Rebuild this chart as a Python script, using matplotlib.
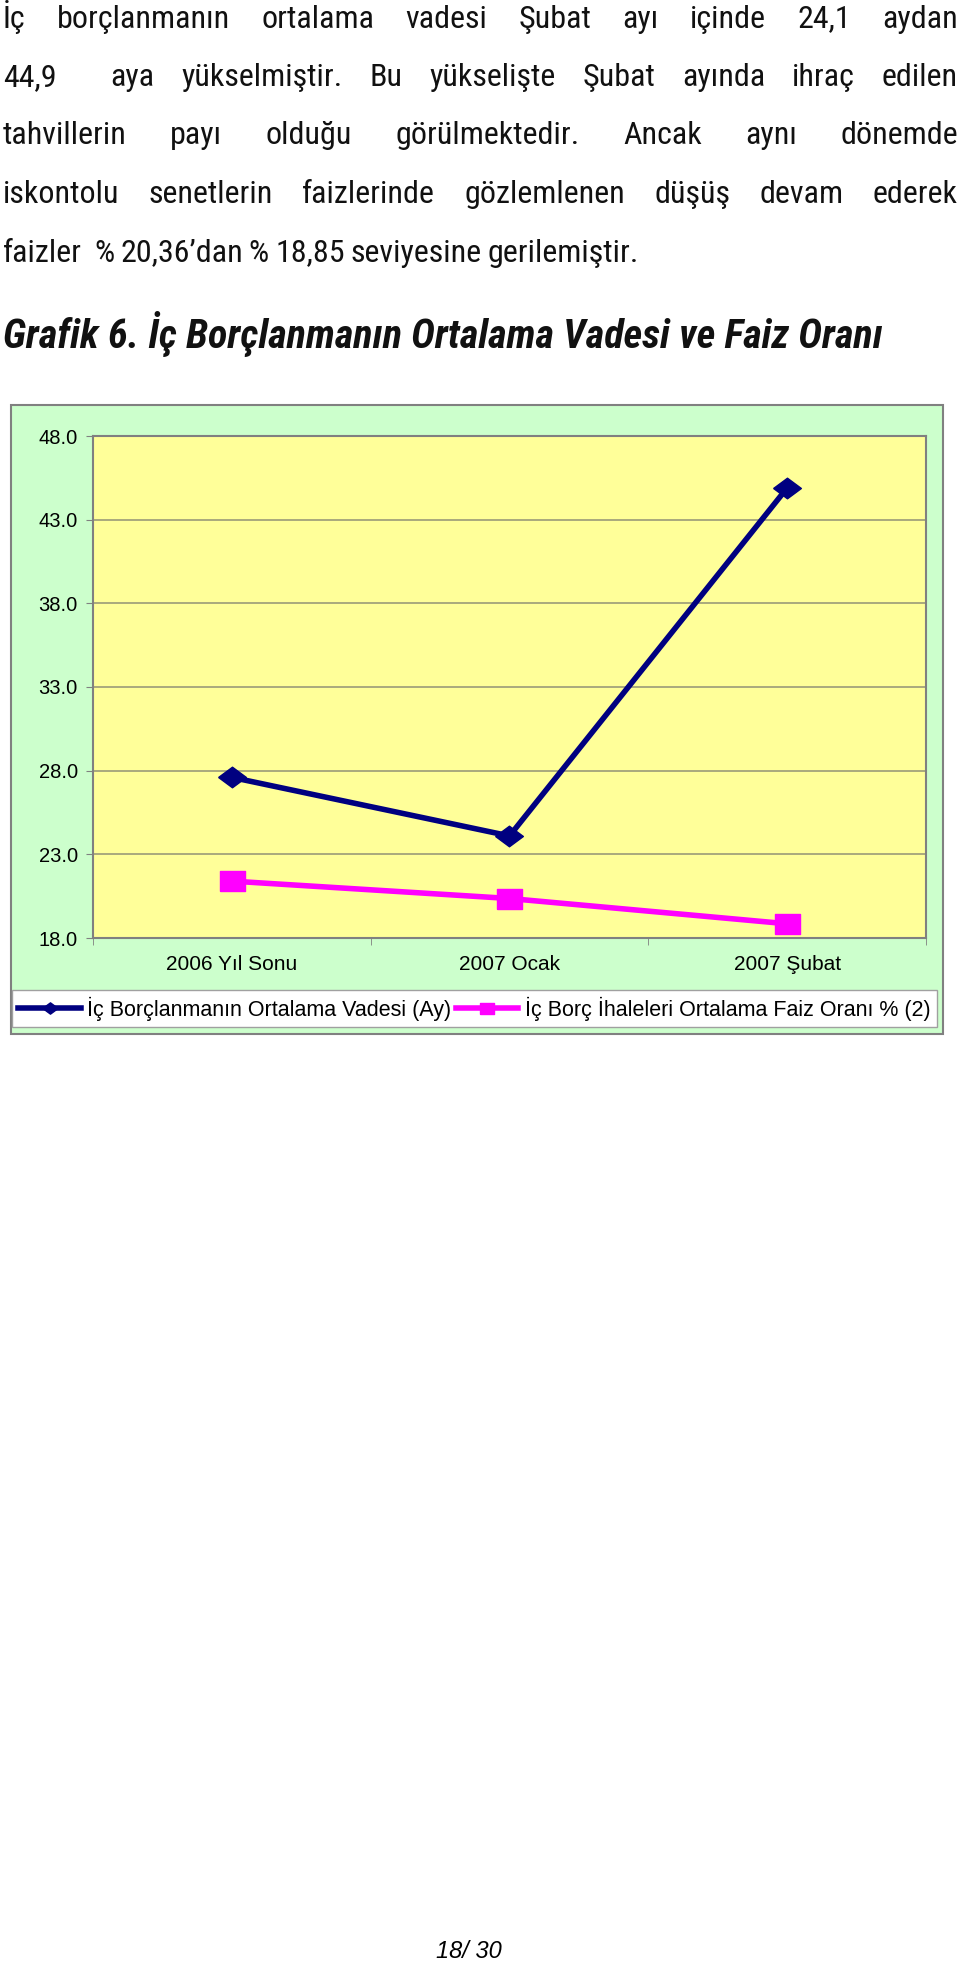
import matplotlib
matplotlib.use('Agg')
import matplotlib.pyplot as plt
from matplotlib import font_manager
from matplotlib.patches import Rectangle

# Data
categories = ['2006 Yıl Sonu', '2007 Ocak', '2007 Şubat']
vade = [27.6, 24.1, 44.9]          # ortalama vade (ay)
faiz = [21.4, 20.36, 18.85]        # ortalama faiz orani %
yticks = [18, 23, 28, 33, 38, 43, 48]
series_labels = ['İç Borçlanmanın Ortalama Vadesi (Ay)',
                 'İç Borç İhaleleri Ortalama Faiz Oranı % (2)']

body_lines = [
    'İç borçlanmanın ortalama vadesi Şubat ayı içinde 24,1 aydan',
    '44,9  aya yükselmiştir. Bu yükselişte Şubat ayında ihraç edilen',
    'tahvillerin payı olduğu görülmektedir. Ancak aynı dönemde',
    'iskontolu senetlerin faizlerinde gözlemlenen düşüş devam ederek',
    'faizler  % 20,36’dan % 18,85 seviyesine gerilemiştir.',
]
title = 'Grafik 6. İç Borçlanmanın Ortalama Vadesi ve Faiz Oranı'
page_no = '18/ 30'

# pick a narrow font for the body if one is there
names = {f.name for f in font_manager.fontManager.ttflist}
body_font = 'Liberation Sans'
for cand in ['Liberation Sans Narrow', 'Roboto Condensed', 'DejaVu Sans Condensed']:
    if cand in names:
        body_font = cand
        break
chart_font = 'Liberation Sans'

W, H = 960, 1962
fig = plt.figure(figsize=(W / 100, H / 100), dpi=100)
fig.patch.set_facecolor('white')
renderer = fig.canvas.get_renderer()


def fx(px):
    return px / W


def fy(py):
    return 1 - py / H


# justified paragraph (last line left aligned with tight spaces)
body_size = 23
left_px, right_px = 3, 958
baselines = [27.5, 86, 144.5, 203, 261.5]
for i, line in enumerate(body_lines):
    yb = fy(baselines[i])
    words = line.split(' ')
    texts = [fig.text(0, yb, w, fontsize=body_size, family=body_font,
                      va='baseline', ha='left', color='#111111') for w in words]
    widths = [t.get_window_extent(renderer).width if w else 0 for t, w in zip(texts, words)]
    if i == len(body_lines) - 1:
        gap = 6
    else:
        gap = (right_px - left_px - sum(widths)) / (len(words) - 1)
    x = left_px
    for t, wd in zip(texts, widths):
        t.set_x(fx(x))
        x += wd + gap

fig.text(fx(left_px), fy(348), title, fontsize=29, family=body_font,
         fontweight='bold', fontstyle='italic', va='baseline', ha='left',
         color='#111111')

# chart background box
fig.patches.append(Rectangle((fx(11), fy(1034)), fx(943) - fx(11), fy(405) - fy(1034),
                             transform=fig.transFigure, facecolor='#CCFFCC',
                             edgecolor='#808080', lw=1.5, zorder=-10))

ax = fig.add_axes([fx(93), fy(938), fx(926) - fx(93), fy(436) - fy(938)])
ax.set_zorder(2)
ax.set_facecolor('#FFFF99')
for s in ax.spines.values():
    s.set_color('#808080')
    s.set_linewidth(1.5)

x = list(range(len(categories)))
diamond = [(-1.35, 0), (0, 1), (1.35, 0), (0, -1), (-1.35, 0)]
box = [(-1.25, -1), (1.25, -1), (1.25, 1), (-1.25, 1), (-1.25, -1)]
ax.plot(x, vade, color='#000080', lw=4, marker=diamond, markersize=20,
        label=series_labels[0], zorder=4, clip_on=False)
ax.plot(x, faiz, color='#FF00FF', lw=4, marker=box, markersize=18,
        label=series_labels[1], zorder=3, clip_on=False)

ax.set_xlim(-0.5, 2.5)
ax.set_ylim(18, 48)
ax.set_yticks(yticks)
ax.set_yticklabels([f'{v:.1f}' for v in yticks], fontsize=14.5, family=chart_font)
ax.yaxis.grid(True, color='#A3A37A', lw=1.3)
ax.set_axisbelow(True)
ax.set_xticks(x)
ax.set_xticklabels(categories, fontsize=15, family=chart_font)
ax.set_xticks([-0.5, 0.5, 1.5, 2.5], minor=True)
ax.tick_params(axis='x', which='major', length=0, pad=12)
ax.tick_params(axis='x', which='minor', length=5, color='#808080')
ax.tick_params(axis='y', length=5, color='#808080', pad=6)

leg = fig.legend(loc='lower left',
                 bbox_to_anchor=(fx(12), fy(1027), fx(937) - fx(12), fy(996) - fy(1027)),
                 ncol=2, mode='expand', fancybox=False, edgecolor='#A0A0A0', framealpha=1,
                 borderaxespad=0, borderpad=0.3, handlelength=2.9, handletextpad=0.3,
                 columnspacing=0.3, markerscale=0.55, numpoints=1,
                 prop={'family': chart_font, 'size': 15.5})
leg.set_zorder(3)

fig.text(fx(469), fy(1958), page_no, fontsize=17, family=chart_font,
         fontstyle='italic', ha='center', va='baseline')

fig.savefig('out.png', dpi=100)
